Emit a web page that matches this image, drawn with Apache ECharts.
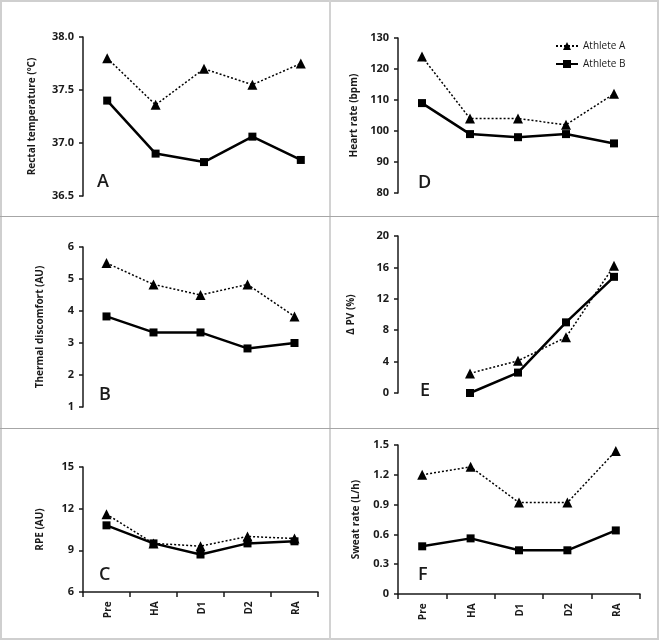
<!DOCTYPE html>
<html>
<head>
<meta charset="utf-8">
<script src="https://cdn.jsdelivr.net/npm/echarts@6/dist/echarts.min.js"></script>
<style>
    html, body { margin: 0; padding: 0; background: #fff; }
    #wrap { position: relative; width: 660px; height: 641px; }
    .panel { position: absolute; }
    .rule { position: absolute; pointer-events: none; }
</style>
</head>
<body>
<div id="wrap">
    <div class="panel" id="pA" style="left:0;top:0;width:330px;height:216px"></div>
    <div class="panel" id="pD" style="left:330px;top:0;width:330px;height:216px"></div>
    <div class="panel" id="pB" style="left:0;top:216px;width:330px;height:212px"></div>
    <div class="panel" id="pE" style="left:330px;top:216px;width:330px;height:212px"></div>
    <div class="panel" id="pC" style="left:0;top:428px;width:330px;height:213px"></div>
    <div class="panel" id="pF" style="left:330px;top:428px;width:330px;height:213px"></div>
    <!-- frame -->
    <div class="rule" style="left:0;top:0;width:655px;height:636px;border:2px solid #cfcfcf"></div>
    <div class="rule" style="left:329px;top:0;width:2px;height:640px;background:#d2d2d2"></div>
    <div class="rule" style="left:0;top:216px;width:659px;height:1px;background:#a6a6a6"></div>
    <div class="rule" style="left:0;top:428px;width:659px;height:1px;background:#a6a6a6"></div>
</div>
<script>
// categories (time points)
var stages = ['Pre', 'HA', 'D1', 'D2', 'RA'];

// A - rectal temperature
var rectalA = [37.8, 37.36, 37.7, 37.55, 37.75];
var rectalB = [37.4, 36.9, 36.82, 37.06, 36.84];
// D - heart rate
var hrA = [124, 104, 104, 102, 112];
var hrB = [109, 99, 98, 99, 96];
// B - thermal discomfort
var discomfortA = [5.5, 4.83, 4.5, 4.83, 3.83];
var discomfortB = [3.83, 3.33, 3.33, 2.83, 3.0];
// E - change in plasma volume (no Pre value)
var pvA = [null, 2.5, 4.1, 7.1, 16.2];
var pvB = [null, 0, 2.6, 9.0, 14.8];
// C - RPE
var rpeA = [11.6, 9.5, 9.3, 10.0, 9.85];
var rpeB = [10.8, 9.5, 8.7, 9.5, 9.65];
// F - sweat rate
var sweatA = [1.2, 1.28, 0.92, 0.92, 1.44];
var sweatB = [0.48, 0.56, 0.44, 0.44, 0.64];

var FONT = '"Open Sans"';
var INK = '#1a1a1a';

// one chart per panel; grid box is relative to the panel's div
var panels = [
    { id: 'pA', letter: 'A', lx: 97, ly: 173,
      grid: { left: 83, top: 37, width: 242, height: 159 }, min: 36.5, max: 38, interval: 0.5,
      name: 'Rectal temperature (ºC)', nameGap: 46, a: rectalA, b: rectalB, xLabels: false,
      fmt: function (v) { return v.toFixed(1); } },
    { id: 'pD', letter: 'D', lx: 88, ly: 174, legend: true,
      grid: { left: 68, top: 38, width: 240, height: 155 }, min: 80, max: 130, interval: 10,
      name: 'Heart rate (bpm)', nameGap: 37, a: hrA, b: hrB, xLabels: false },
    { id: 'pB', letter: 'B', lx: 99, ly: 170,
      grid: { left: 83, top: 31, width: 235, height: 160 }, min: 1, max: 6, interval: 1,
      name: 'Thermal discomfort (AU)', nameGap: 38, a: discomfortA, b: discomfortB, xLabels: false },
    { id: 'pE', letter: 'E', lx: 90, ly: 166,
      grid: { left: 68, top: 20, width: 240, height: 157 }, min: 0, max: 20, interval: 4,
      name: 'Δ PV (%)', nameGap: 42, a: pvA, b: pvB, xLabels: false },
    { id: 'pC', letter: 'C', lx: 99, ly: 138,
      grid: { left: 83, top: 39, width: 235, height: 125 }, min: 6, max: 15, interval: 3,
      name: 'RPE (AU)', nameGap: 38, a: rpeA, b: rpeB, xLabels: true },
    { id: 'pF', letter: 'F', lx: 88, ly: 138,
      grid: { left: 68, top: 17, width: 242, height: 149 }, min: 0, max: 1.5, interval: 0.3,
      name: 'Sweat rate (L/h)', nameGap: 37, a: sweatA, b: sweatB, xLabels: true,
      fmt: function (v) { return v === 0 ? '0' : v.toFixed(1); } }
];

var myEcharts = [];

// make sure the category labels end up tilted 45deg (right end at the tick)
function tiltCategoryLabels(chart) {
    try {
        var zr = chart.getZr();
        var list = zr.storage.getDisplayList(true);
        list.forEach(function (el) {
            if (el.style && stages.indexOf(el.style.text) >= 0 && !el.rotation) {
                el.rotation = Math.PI / 4;
                el.originX = 0;
                el.originY = 0;
                el.style.align = 'right';
                el.style.verticalAlign = 'middle';
                el.y += 2;
                el.markRedraw();
            }
        });
        zr.refreshImmediately();
    } catch (e) {}
}

panels.forEach(function (p) {
    var chart = echarts.init(document.getElementById(p.id));
    myEcharts.push(chart);

    var yLabel = {
        margin: 9,
        color: INK, fontFamily: FONT, fontWeight: 'bold', fontSize: 11
    };
    if (p.fmt) yLabel.formatter = p.fmt;

    var option = {
        animation: false,
        // panel letter
        title: {
            text: p.letter,
            left: p.lx,
            top: p.ly,
            padding: 0,
            textStyle: { color: INK, fontFamily: FONT, fontWeight: 600, fontSize: 18 }
        },
        grid: p.grid,
        xAxis: {
            type: 'category',
            data: stages,
            show: p.xLabels,
            axisLine: { lineStyle: { color: INK, width: 1.5 } },
            axisTick: { show: true, length: 5, lineStyle: { color: INK, width: 1.5 } },
            axisLabel: {
                interval: 0,
                rotate: 45,
                margin: 8,
                color: INK, fontFamily: FONT, fontWeight: 'bold', fontSize: 10
            }
        },
        yAxis: {
            type: 'value',
            min: p.min,
            max: p.max,
            interval: p.interval,
            name: p.name,
            nameLocation: 'middle',
            nameGap: p.nameGap,
            nameTextStyle: { color: INK, fontFamily: FONT, fontWeight: 'bold', fontSize: 10 },
            axisLine: { show: true, lineStyle: { color: INK, width: 1.5 } },
            axisTick: { show: true, length: 4, lineStyle: { color: INK, width: 1.5 } },
            splitLine: { show: false },
            axisLabel: yLabel
        },
        series: [
            {
                name: 'Athlete A',
                type: 'line',
                data: p.a,
                symbol: 'triangle',
                symbolSize: 10,
                color: '#000',
                lineStyle: { type: [2, 2], width: 1.5, color: '#000' },
                itemStyle: { color: '#000' },
                z: 3
            },
            {
                name: 'Athlete B',
                type: 'line',
                data: p.b,
                symbol: 'rect',
                symbolSize: 8,
                color: '#000',
                lineStyle: { type: 'solid', width: 2.5, color: '#000' },
                itemStyle: { color: '#000' },
                z: 2
            }
        ]
    };

    if (p.legend) {
        option.legend = {
            data: ['Athlete A', 'Athlete B'],
            orient: 'vertical',
            left: 220,
            top: 36,
            itemWidth: 22,
            itemHeight: 10,
            itemGap: 8,
            textStyle: { color: INK, fontFamily: FONT, fontSize: 10 }
        };
    }

    chart.setOption(option);
    if (p.xLabels) tiltCategoryLabels(chart);
});
</script>
</body>
</html>
